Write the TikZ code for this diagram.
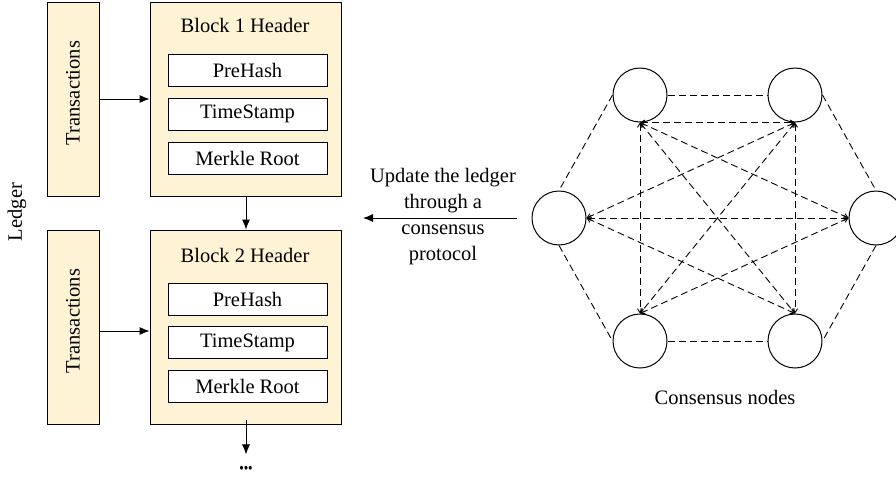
\documentclass[tikz,border=0pt]{standalone}
\usepackage{fontspec}
\setmainfont{Liberation Serif}
\usetikzlibrary{arrows.meta}
\definecolor{cream}{RGB}{254,243,213}
\tikzset{
  txt/.style={font=\fontsize{20.5}{26}\selectfont},
  blockbox/.style={draw, line width=0.9pt, fill=cream, minimum width=191pt, minimum height=194pt, inner sep=0pt},
  transbox/.style={draw, line width=0.9pt, fill=cream, minimum width=52pt, minimum height=194pt, inner sep=0pt},
  fieldbox/.style={draw, line width=0.9pt, fill=white, minimum width=159pt, minimum height=32pt, inner sep=0pt, txt},
  mainarrow/.style={line width=0.9pt, -{Latex[length=10pt,width=8pt]}},
  cnode/.style={circle, draw, line width=1pt, minimum size=54pt, inner sep=0pt},
  ring/.style={line width=0.9pt, dash pattern=on 7pt off 4pt},
  mesh/.style={line width=0.9pt, dash pattern=on 7pt off 4pt, {Straight Barb[length=4pt,width=5pt]}-{Straight Barb[length=4pt,width=5pt]}}
}
\begin{document}
\begin{tikzpicture}[x=1pt,y=-1pt]
\useasboundingbox (0,0) rectangle (896,479);
% left: ledger
\node[txt, rotate=90] (ledger) at (17,212) {Ledger};
\node[transbox] (t1) at (73,99) {};
\node[txt, rotate=90] (t1l) at (73,93) {Transactions};
\node[blockbox] (b1) at (245.5,99) {};
\node[txt] (b1t) at (245,25) {Block 1 Header};
\node[fieldbox] (b1a) at (247.5,70) {PreHash};
\node[fieldbox] (b1b) at (247.5,114) {TimeStamp};
\node[fieldbox] (b1c) at (247.5,158) {Merkle Root};
\node[transbox] (t2) at (73,327) {};
\node[txt, rotate=90] (t2l) at (73,321) {Transactions};
\node[blockbox] (b2) at (245.5,327) {};
\node[txt] (b2t) at (245,255) {Block 2 Header};
\node[fieldbox] (b2a) at (247.5,299) {PreHash};
\node[fieldbox] (b2b) at (247.5,342.5) {TimeStamp};
\node[fieldbox] (b2c) at (247.5,386.5) {Merkle Root};
\node[font=\fontsize{16}{16}\selectfont, inner sep=0pt, xscale=0.8] (more) at (246,470) {•••};
\draw[mainarrow] (t1.east) -- (b1.west);
\draw[mainarrow] (t2.east |- 0,331) -- (b2.west |- 0,331);
\draw[mainarrow] ([xshift=0.5pt]b1.south) -- ([xshift=0.5pt]b2.north);
\draw[mainarrow] ([xshift=0.5pt,yshift=4pt]b2.south) -- ++(0,34);
% middle label
\node[txt, align=center, inner sep=0pt] (upd) at (443,217) {Update the ledger\\through a\\consensus\\protocol};
\coordinate (ua) at (517,218);
\coordinate (ub) at (363,218);
\draw[mainarrow] (ua) -- (ub);
% consensus nodes
\node[cnode] (TL) at (640,95) {};
\node[cnode] (TR) at (795,95) {};
\node[cnode] (L) at (559,218) {};
\node[cnode] (R) at (876,218) {};
\node[cnode] (BL) at (640,341) {};
\node[cnode] (BR) at (795,341) {};
\node[txt] (cap) at (725,397) {Consensus nodes};
% ring
\draw[ring] (TL.east) -- (TR.west);
\draw[ring] (TL.west) -- (L.north);
\draw[ring] (TR.east) -- (R.north);
\draw[ring] (L.south) -- (BL.west);
\draw[ring] (R.south) -- (BR.east);
\draw[ring] (BL.east) -- (BR.west);
% mesh
\draw[mesh] (TL.south) -- (TR.south);
\draw[mesh] (TL.south) -- (BL.north);
\draw[mesh] (TR.south) -- (BR.north);
\draw[mesh] (TL.south) -- (R.west);
\draw[mesh] (TL.south) -- (BR.north);
\draw[mesh] (TR.south) -- (L.east);
\draw[mesh] (TR.south) -- (BL.north);
\draw[mesh] (L.east) -- (R.west);
\draw[mesh] (L.east) -- (BR.north);
\draw[mesh] (BL.north) -- (R.west);
\end{tikzpicture}
\end{document}
